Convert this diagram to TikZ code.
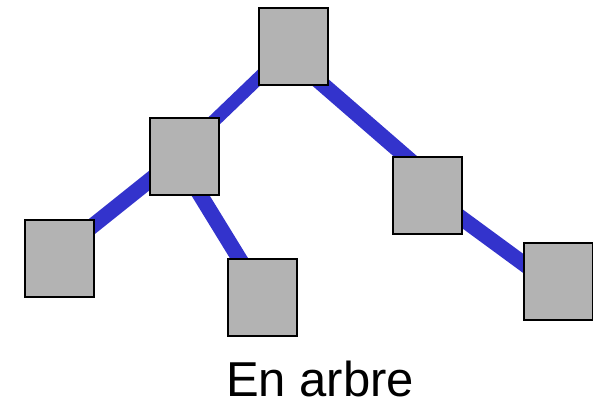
\documentclass[tikz,border=0pt]{standalone}
\usepackage{fontspec}
\setmainfont{Liberation Sans}
\usetikzlibrary{backgrounds}
\definecolor{edgeblue}{HTML}{3333CC}
\definecolor{boxgray}{HTML}{B3B3B3}
\tikzset{
  treebox/.style={draw=black, fill=boxgray, line width=2pt, minimum width=69pt, minimum height=77pt, inner sep=0pt, outer sep=0pt},
  treeedge/.style={draw=edgeblue, line width=15.5pt}
}
\begin{document}
\begin{tikzpicture}[x=1pt, y=-1pt]
  \useasboundingbox (0,0) rectangle (593,402);
  % the six tree nodes
  \node[treebox] (root) at (293.5,46.5) {};
  \node[treebox] (a) at (184,156) {};
  \node[treebox] (aa) at (59,258) {};
  \node[treebox] (ab) at (262.5,297) {};
  \node[treebox] (b) at (427,195) {};
  \node[treebox] (bb) at (558.5,281.5) {};
  % branches, drawn behind the boxes (yshift is in page units: positive is up)
  \begin{pgfonlayer}{background}
    \draw[treeedge, line width=13pt] ([yshift=1.9pt]root.center) -- ([yshift=6.3pt]a.center);
    \draw[treeedge] ([yshift=3.2pt]a.center) -- ([yshift=5.2pt]aa.center);
    \draw[treeedge] ([xshift=-7.7pt]a.center) -- ([xshift=0.3pt]ab.center);
    \draw[treeedge] ([yshift=-12.6pt]root.center) -- ([yshift=20pt]b.center);
    \draw[treeedge] ([yshift=2.2pt]b.center) -- ([yshift=-7.8pt]bb.center);
  \end{pgfonlayer}
  \node[anchor=base, inner sep=0pt, text depth=0pt, font=\fontsize{49pt}{55pt}\selectfont] (caption) at (320,396) {En arbre};
\end{tikzpicture}
\end{document}
